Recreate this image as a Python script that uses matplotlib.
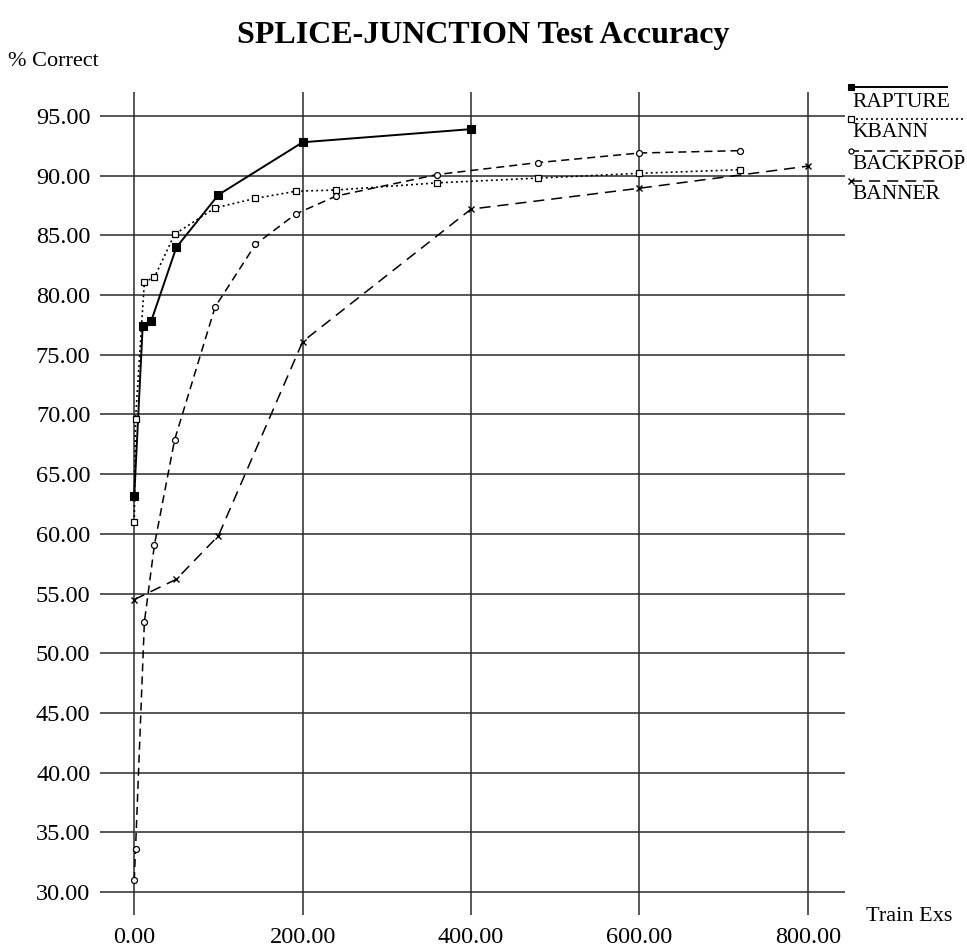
import matplotlib
matplotlib.use("Agg")
import matplotlib.pyplot as plt
from matplotlib.lines import Line2D

plt.rcParams['font.family'] = ['Liberation Serif', 'DejaVu Serif']
plt.rcParams['lines.scale_dashes'] = False

# ---------------- data ----------------
rapture_x = [0, 10, 20, 50, 100, 200, 400]
rapture_y = [63.2, 77.4, 77.8, 84.0, 88.4, 92.8, 93.9]

kbann_x = [0, 1.5, 12, 24, 48, 96, 144, 192, 240, 360, 480, 600, 720]
kbann_y = [61.0, 69.6, 81.1, 81.5, 85.1, 87.3, 88.1, 88.7, 88.8, 89.4, 89.8, 90.2, 90.5]

backprop_x = [0, 1.5, 12, 24, 48, 96, 144, 192, 240, 360, 480, 600, 720]
backprop_y = [31.0, 33.6, 52.6, 59.1, 67.9, 79.0, 84.25, 86.8, 88.3, 90.1, 91.1, 91.9, 92.1]

banner_x = [0, 50, 100, 200, 400, 600, 800]
banner_y = [54.5, 56.2, 59.85, 76.1, 87.2, 88.95, 90.8]

x_ticks = [0, 200, 400, 600, 800]
x_tick_labels = ["0.00", "200.00", "400.00", "600.00", "800.00"]
y_ticks = [30, 35, 40, 45, 50, 55, 60, 65, 70, 75, 80, 85, 90, 95]
y_tick_labels = ["%.2f" % v for v in y_ticks]

series_names = ["RAPTURE", "KBANN", "BACKPROP", "BANNER"]

# ---------------- figure ----------------
W, H = 967, 951
fig = plt.figure(figsize=(W / 100, H / 100), dpi=100)
ax = fig.add_axes([100 / W, 36 / H, 745 / W, 823 / H])
ax.set_xlim(-40.7, 844.2)
ax.set_ylim(28.08, 97.01)

for s in ax.spines.values():
    s.set_visible(False)

grid_kw = dict(color='#2a2a2a', lw=1.1, zorder=1)
for yv in y_ticks:
    ax.axhline(yv, **grid_kw)
for xv in x_ticks:
    ax.axvline(xv, **grid_kw)

ax.set_xticks(x_ticks, x_tick_labels)
ax.set_yticks(y_ticks, y_tick_labels)
ax.tick_params(axis='both', length=0, labelsize=17.5)
ax.tick_params(axis='y', pad=7)
ax.tick_params(axis='x', pad=8.5)

styles = {
    "RAPTURE": dict(color='black', lw=1.4, ls='-', marker='s', ms=5.2,
                    mfc='black', mec='black', mew=0.8),
    "KBANN": dict(color='black', lw=1.2, ls=(0, (1.4, 2.2)), marker='s', ms=4.6,
                  mfc='white', mec='black', mew=0.9),
    "BACKPROP": dict(color='black', lw=1.1, ls=(0, (5.8, 3.6)), marker='o', ms=4.3,
                     mfc='white', mec='black', mew=0.9),
    "BANNER": dict(color='black', lw=1.1, ls=(0, (8.0, 5.0)), marker='x', ms=5,
                   mfc='none', mec='black', mew=1.0),
}

data = {
    "RAPTURE": (rapture_x, rapture_y),
    "KBANN": (kbann_x, kbann_y),
    "BACKPROP": (backprop_x, backprop_y),
    "BANNER": (banner_x, banner_y),
}

for name in series_names:
    xs, ys = data[name]
    ax.plot(xs, ys, zorder=3, clip_on=False, **styles[name])

# ---------------- texts ----------------
def fx(px):
    return px / W

def fy(py):
    return 1 - py / H

fig.text(fx(483), fy(43), "SPLICE-JUNCTION Test Accuracy", ha='center', va='baseline',
         fontsize=23, fontweight='bold')
fig.text(fx(8), fy(66), "% Correct", ha='left', va='baseline', fontsize=16)
fig.text(fx(866), fy(921), "Train Exs", ha='left', va='baseline', fontsize=16)

# ---------------- legend (hand drawn, like the original) ----------------
leg_rows = {  # marker y (px), text baseline (px), line end x (px)
    "RAPTURE": (87, 107, 947),
    "KBANN": (119, 137, 963),
    "BACKPROP": (150.5, 169, 962),
    "BANNER": (181, 199, 940),
}
for name in series_names:
    my, by, xend = leg_rows[name]
    st = dict(styles[name])
    marker = st.pop('marker'); ms = st.pop('ms'); mfc = st.pop('mfc')
    mec = st.pop('mec'); mew = st.pop('mew')
    fig.add_artist(Line2D([fx(851), fx(xend)], [fy(my), fy(my)],
                          transform=fig.transFigure, **st))
    fig.add_artist(Line2D([fx(851)], [fy(my)], transform=fig.transFigure,
                          ls='none', marker=marker, ms=ms * 0.85, mfc=mfc, mec=mec, mew=mew))
    fig.text(fx(852), fy(by), name, ha='left', va='baseline', fontsize=15.5)

fig.savefig("out.png", dpi=100, facecolor='white')
